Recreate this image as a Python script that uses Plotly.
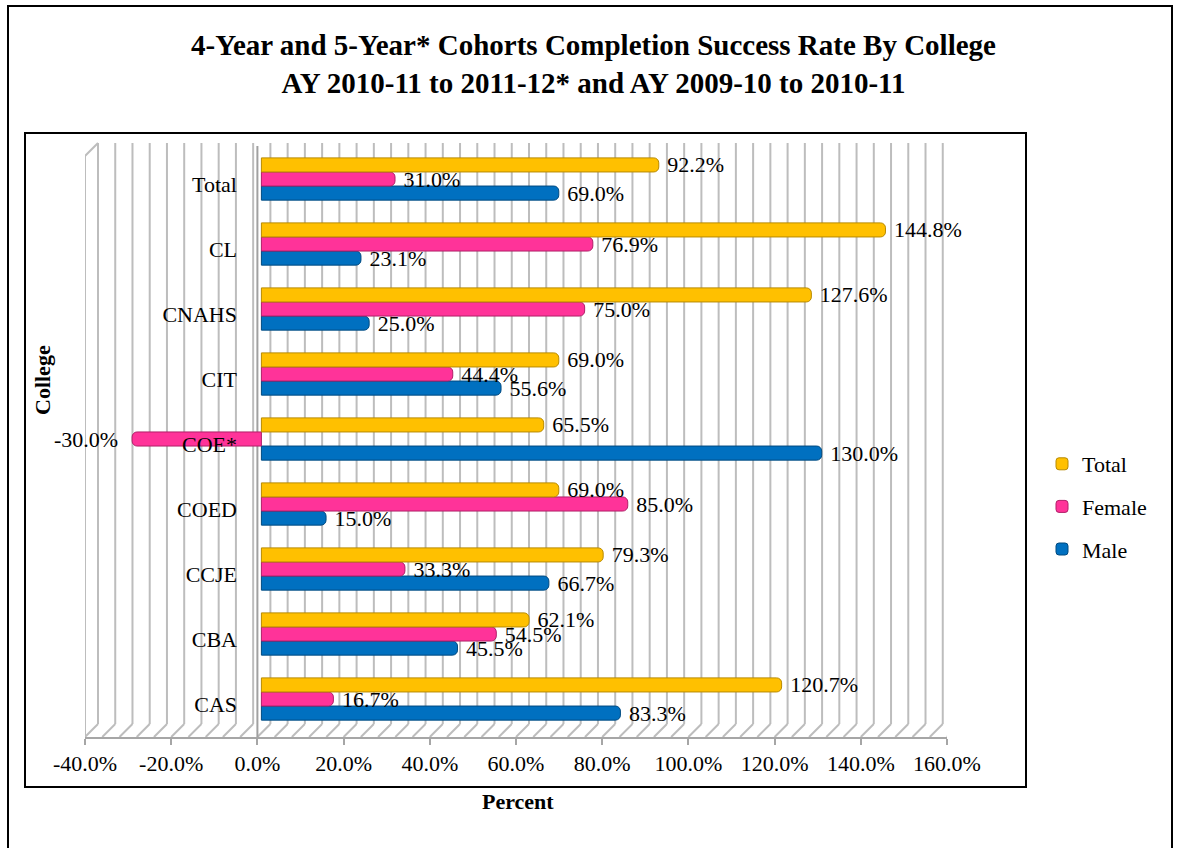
import plotly.graph_objects as go

# ---------------- data ----------------
colleges = ["CAS", "CBA", "CCJE", "COED", "COE*", "CIT", "CNAHS", "CL", "Total"]
male = [83.3, 45.5, 66.7, 15.0, 130.0, 55.6, 25.0, 23.1, 69.0]
female = [16.7, 54.5, 33.3, 85.0, -30.0, 44.4, 75.0, 76.9, 31.0]
total = [120.7, 62.1, 79.3, 69.0, 65.5, 69.0, 127.6, 144.8, 92.2]
tick_vals = [-40, -20, 0, 20, 40, 60, 80, 100, 120, 140, 160]
tick_labels = ["-40.0%", "-20.0%", "0.0%", "20.0%", "40.0%", "60.0%",
               "80.0%", "100.0%", "120.0%", "140.0%", "160.0%"]
grid_step = 4

W, H = 1177, 848
FONT = "Liberation Serif"


def px(x):
    return x / W


def py(y):
    return 1 - y / H


def lab(v):
    return f" {v:.1f}%" if v >= 0 else f"{v:.1f}%  "


# pixel geometry of the pseudo-3D frame
front_l, front_r = 85, 947
depth_dx, depth_dy = 13, 13
bar_dx = 4
floor_y = 737
wall_top = 143
scale = (front_r - front_l) / (tick_vals[-1] - tick_vals[0])
dd = depth_dx / scale  # depth offset in data units

fig = go.Figure()

series = [("Male", male, "#0070C0", "#004A80", 3),
          ("Female", female, "#FF3399", "#B01F68", 2),
          ("Total", total, "#FFC000", "#B88A00", 1)]
for name, vals, col, edge, rank in series:
    fig.add_trace(go.Bar(
        y=colleges, x=vals, name=name, orientation="h",
        xaxis="x", yaxis="y", legendgroup=name, legendrank=rank,
        marker=dict(color=col, line=dict(color=edge, width=1), cornerradius=5),
        text=[lab(v) for v in vals], textposition="outside",
        textfont=dict(family=FONT, size=22, color="black"),
        constraintext="none", cliponaxis=False,
    ))

grid_vals = list(range(tick_vals[0], tick_vals[-1] + 1, grid_step))

fig.update_layout(
    width=W, height=H,
    margin=dict(l=0, r=0, t=0, b=0, autoexpand=False),
    paper_bgcolor="white", plot_bgcolor="rgba(0,0,0,0)",
    font=dict(family=FONT, size=22, color="black"),
    barmode="group", bargap=0.35, bargroupgap=0.0,
    # bars
    xaxis=dict(domain=[px(front_l + bar_dx), px(front_r + bar_dx)],
               range=[tick_vals[0], tick_vals[-1]], anchor="y",
               visible=False),
    yaxis=dict(domain=[py(731.5), py(146.5)], type="category",
               categoryorder="array", categoryarray=colleges,
               anchor="free", position=px(237), ticklabelshift=5,
               showgrid=False, showline=False, ticks="", zeroline=False,
               tickfont=dict(family=FONT, size=22)),
    # front floor axis with labels
    xaxis2=dict(domain=[px(front_l), px(front_r)],
                range=[tick_vals[0], tick_vals[-1]], anchor="y2",
                tickvals=tick_vals, ticktext=tick_labels,
                tickfont=dict(family=FONT, size=22),
                showline=True, linecolor="#A6A6A6", linewidth=2,
                ticks="outside", ticklen=6, tickcolor="#A6A6A6", tickwidth=2,
                showgrid=False, zeroline=False),
    yaxis2=dict(domain=[py(floor_y), py(150)], visible=False,
                range=[0, 1], anchor="x2"),
    legend=dict(x=px(1042), y=py(443), xanchor="left", yanchor="top",
                traceorder="grouped", tracegroupgap=11,
                font=dict(family=FONT, size=22), bgcolor="rgba(0,0,0,0)"),
    showlegend=True,
)

grid_line = dict(color="#BDBDBD", width=2)
shapes = []
for v in grid_vals:
    # back wall vertical gridline
    shapes.append(dict(type="line", xref="x2", yref="paper", layer="below",
                       x0=v + dd, y0=py(floor_y - depth_dy), x1=v + dd, y1=py(wall_top),
                       line=grid_line))
    # floor diagonal from front edge to back wall
    shapes.append(dict(type="line", xref="x2", yref="paper", layer="below",
                       x0=v, y0=py(floor_y), x1=v + dd, y1=py(floor_y - depth_dy),
                       line=grid_line))
# left side wall
shapes.append(dict(type="line", xref="x2", yref="paper", layer="below",
                   x0=tick_vals[0], y0=py(floor_y), x1=tick_vals[0], y1=py(wall_top + 13),
                   line=grid_line))
shapes.append(dict(type="line", xref="x2", yref="paper", layer="below",
                   x0=tick_vals[0], y0=py(wall_top + 13), x1=tick_vals[0] + dd,
                   y1=py(wall_top), line=grid_line))
# vertical axis plane at zero
shapes.append(dict(type="line", xref="x2", yref="paper", layer="below",
                   x0=0, y0=py(floor_y), x1=0, y1=py(146),
                   line=dict(color="#A0A0A0", width=2)))
# inner chart frame and outer border
shapes.append(dict(type="rect", xref="paper", yref="paper",
                   x0=px(25), y0=py(787), x1=px(1026), y1=py(133),
                   line=dict(color="black", width=2)))
shapes.append(dict(type="rect", xref="paper", yref="paper",
                   x0=px(8), y0=py(870), x1=px(1172), y1=py(6),
                   line=dict(color="black", width=2)))
fig.update_layout(shapes=shapes)

fig.add_annotation(text="<b>4-Year and 5-Year* Cohorts Completion Success Rate By College</b><br>"
                        "<b>AY 2010-11 to 2011-12* and AY 2009-10 to 2010-11</b>",
                   xref="paper", yref="paper", x=px(594), y=py(64),
                   showarrow=False, font=dict(family=FONT, size=29, color="black"),
                   xanchor="center", yanchor="middle")
fig.add_annotation(text="<b>College</b>", xref="paper", yref="paper",
                   x=px(42), y=py(380), textangle=-90, showarrow=False,
                   xanchor="center", yanchor="middle",
                   font=dict(family=FONT, size=22, color="black"))
fig.add_annotation(text="<b>Percent</b>", xref="paper", yref="paper",
                   x=px(518), y=py(801), showarrow=False,
                   xanchor="center", yanchor="middle",
                   font=dict(family=FONT, size=22, color="black"))

fig.write_html("out.html")
